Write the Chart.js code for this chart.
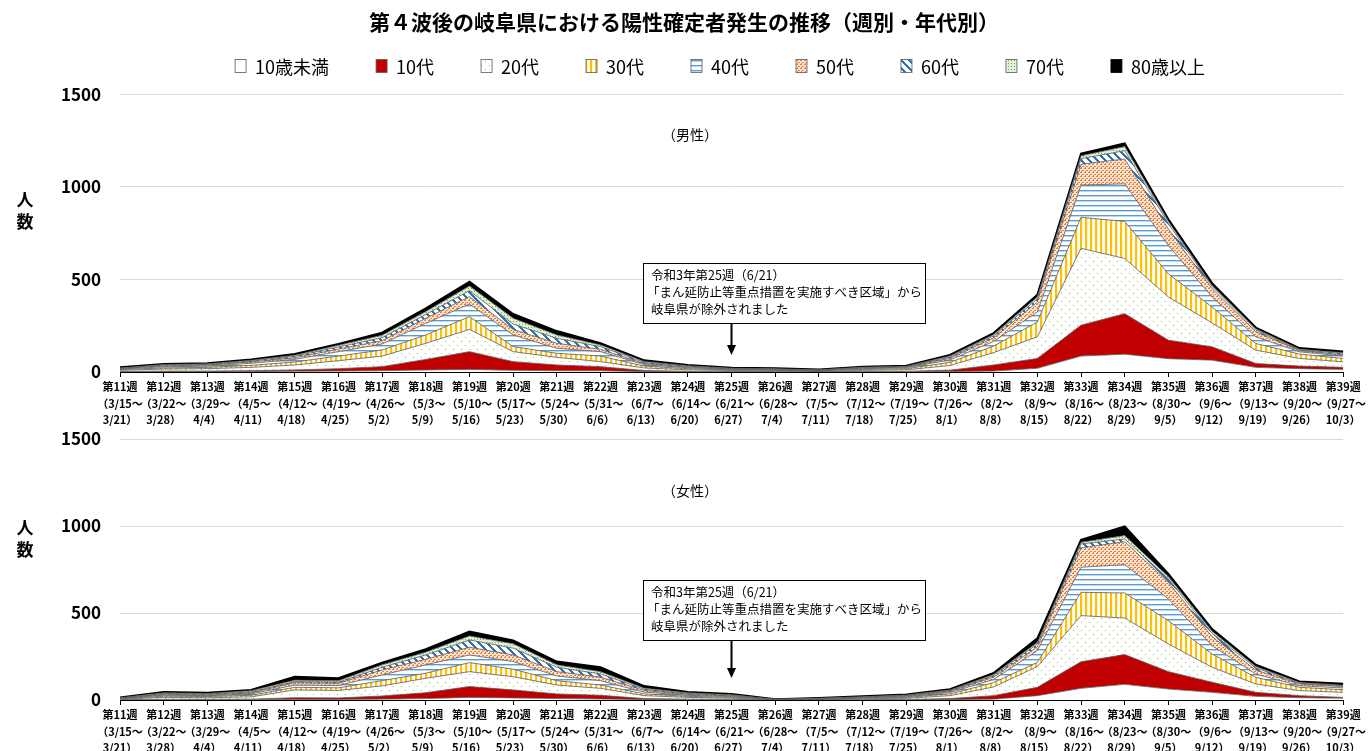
<!DOCTYPE html>
<html>
<head>
<meta charset="utf-8">
<script src="https://cdn.jsdelivr.net/npm/chart.js@4.4.0/dist/chart.umd.min.js"></script>
<style>
  body { margin: 0; background: #fff; width: 1368px; height: 751px; overflow: hidden; position: relative; }
  .wrap { position: absolute; left: 0; width: 1368px; }
</style>
</head>
<body>
<div class="wrap" style="top:0;height:430px"><canvas id="male"></canvas></div>
<div class="wrap" style="top:429px;height:322px"><canvas id="female"></canvas></div>
<script>
// week labels
const weekNames = ['第11週','第12週','第13週','第14週','第15週','第16週','第17週','第18週','第19週','第20週',
  '第21週','第22週','第23週','第24週','第25週','第26週','第27週','第28週','第29週','第30週',
  '第31週','第32週','第33週','第34週','第35週','第36週','第37週','第38週','第39週'];
const weekStarts = ['3/15','3/22','3/29','4/5','4/12','4/19','4/26','5/3','5/10','5/17',
  '5/24','5/31','6/7','6/14','6/21','6/28','7/5','7/12','7/19','7/26',
  '8/2','8/9','8/16','8/23','8/30','9/6','9/13','9/20','9/27'];
const weekEnds = ['3/21','3/28','4/4','4/11','4/18','4/25','5/2','5/9','5/16','5/23',
  '5/30','6/6','6/13','6/20','6/27','7/4','7/11','7/18','7/25','8/1',
  '8/8','8/15','8/22','8/29','9/5','9/12','9/19','9/26','10/3'];

const ageGroups = ['10歳未満','10代','20代','30代','40代','50代','60代','70代','80歳以上'];

// 男性 (weekly counts per age group)
const maleU10 = [1,2,2,2,4,5,7,11,14,9,7,7,2,1,1,1,0,1,1,2,5,20,86,96,72,64,25,18,14];
const male10  = [2,3,3,5,7,13,22,57,96,47,31,22,6,3,2,1,1,2,3,8,33,53,167,219,100,72,21,14,11];
const male20  = [6,11,13,18,27,43,57,87,120,54,41,27,14,8,5,4,3,6,8,25,67,117,415,298,233,129,72,41,30];
const male30  = [4,6,7,11,16,25,33,45,69,27,22,30,10,6,3,3,2,5,6,17,35,80,167,200,125,86,36,24,18];
const male40  = [3,6,7,11,14,24,32,63,68,63,27,24,8,5,3,2,2,4,5,13,25,54,174,203,153,54,36,12,13];
const male50  = [2,5,5,7,9,14,18,27,40,30,27,12,6,4,2,2,1,3,3,9,20,54,113,134,89,45,27,6,7];
const male60  = [2,4,4,5,8,11,16,21,32,29,27,15,6,4,2,2,1,2,3,6,10,17,30,45,28,12,9,4,7];
const male70  = [2,3,3,4,5,9,13,15,25,31,18,9,5,3,2,2,2,3,2,6,7,10,15,22,13,5,7,4,4];
const male80  = [3,3,3,5,7,7,14,18,24,23,21,9,6,4,3,3,2,3,3,6,8,12,12,18,12,13,7,6,7];

// 女性
const femaleU10 = [1,1,1,1,3,3,5,8,15,12,8,6,2,1,1,0,0,1,1,2,5,25,67,90,63,44,21,13,10];
const female10  = [1,3,3,4,10,9,18,34,62,46,27,21,6,4,3,0,1,1,2,6,20,48,153,171,100,58,23,12,5];
const female20  = [3,11,9,13,45,43,58,83,86,76,51,40,17,10,7,1,2,5,7,17,50,119,265,210,159,86,48,29,29];
const female30  = [2,7,7,9,15,15,30,29,52,43,25,19,10,6,5,1,2,3,5,10,25,24,134,144,134,76,38,19,15];
const female40  = [2,6,5,8,13,13,33,48,44,44,27,25,10,6,4,1,2,3,4,8,18,68,144,163,125,48,19,9,10];
const female50  = [1,5,4,6,14,13,29,32,44,38,25,20,10,5,4,0,1,2,4,6,14,22,111,132,95,52,23,10,8];
const female60  = [1,4,4,6,6,6,15,25,42,39,25,19,7,5,3,1,1,2,3,4,8,16,23,15,20,19,12,5,4];
const female70  = [2,4,4,6,8,8,14,16,23,25,14,13,6,4,3,0,1,2,3,4,6,9,9,20,13,12,8,4,4];
const female80  = [2,5,4,5,20,15,13,17,25,19,19,25,12,5,5,1,2,3,3,5,9,23,14,53,15,13,11,6,9];

const labels = weekNames.map((w, i) => [w, '（' + weekStarts[i] + '～', weekEnds[i] + '）']);

const FONT = '"Noto Sans CJK JP", "Noto Sans", sans-serif';

// fill patterns like the office chart
function makePattern(w, h, draw) {
  const c = document.createElement('canvas');
  c.width = w; c.height = h;
  const g = c.getContext('2d');
  g.fillStyle = '#fff';
  g.fillRect(0, 0, w, h);
  draw(g);
  return g.createPattern(c, 'repeat');
}

const fills = [
  '#ffffff',
  '#c00000',
  makePattern(8, 8, g => { g.fillStyle = '#8fbf6a'; g.fillRect(1, 1, 1, 1); g.fillRect(5, 5, 1, 1); }),
  makePattern(5, 1, g => { g.fillStyle = '#ffc000'; g.fillRect(0, 0, 2, 1); g.fillStyle = '#fff2cc'; g.fillRect(2, 0, 1, 1); }),
  makePattern(1, 5, g => { g.fillStyle = '#5b9bd5'; g.fillRect(0, 0, 1, 1); g.fillStyle = '#bdd7ee'; g.fillRect(0, 1, 1, 1); }),
  makePattern(4, 4, g => {
    g.fillStyle = '#fbe5d6'; g.fillRect(0, 0, 4, 4);
    g.fillStyle = '#ed7d31'; g.fillRect(0, 0, 2, 1); g.fillRect(2, 2, 2, 1); g.fillRect(1, 3, 1, 1);
  }),
  makePattern(8, 8, g => {
    g.fillStyle = '#2e75b6';
    for (let i = 0; i < 8; i++) { g.fillRect(i, i, 3, 1); g.fillRect(i - 8, i, 3, 1); }
  }),
  makePattern(3, 3, g => {
    g.fillStyle = '#e2efd9'; g.fillRect(0, 0, 3, 3);
    g.fillStyle = '#70ad47'; g.fillRect(0, 0, 1, 1);
  }),
  '#000000'
];

function buildDatasets(series) {
  return series.map((data, i) => ({
    label: ageGroups[i],
    data: data,
    backgroundColor: fills[i],
    borderColor: i === 8 ? '#000' : '#595959',
    borderWidth: i === 8 ? 2 : 0.8,
    pointRadius: 0,
    tension: 0,
    fill: i === 0 ? 'origin' : '-1'
  }));
}

// subtitle, axis title, note box and custom legend
const overlay = {
  id: 'overlay',
  afterDraw(chart, args, o) {
    const ctx = chart.ctx;
    const xs = chart.scales.x;
    ctx.save();
    ctx.fillStyle = '#000';
    ctx.textAlign = 'center';
    ctx.textBaseline = 'middle';
    ctx.font = '14px ' + FONT;
    ctx.fillText(o.sub, 690, o.subY);
    ctx.font = 'bold 17px ' + FONT;
    ctx.fillText('人', 25, o.yTitle);
    ctx.fillText('数', 25, o.yTitle + 22);

    // note box
    const bx = 643, bw = 282, bh = 60, by = o.boxTop;
    ctx.fillStyle = '#fff';
    ctx.fillRect(bx, by, bw, bh);
    ctx.strokeStyle = '#000';
    ctx.lineWidth = 1;
    ctx.strokeRect(bx + 0.5, by + 0.5, bw, bh);
    ctx.fillStyle = '#000';
    ctx.textAlign = 'left';
    ctx.font = '12.5px ' + FONT;
    ctx.fillText('令和3年第25週（6/21）', bx + 8, by + 12);
    ctx.fillText('「まん延防止等重点措置を実施すべき区域」から', bx + 4, by + 29);
    ctx.fillText('岐阜県が除外されました', bx + 8, by + 46);

    // arrow to week 25
    const ax = Math.round(xs.getPixelForValue(14)) - 0.5;
    ctx.lineWidth = 2;
    ctx.beginPath();
    ctx.moveTo(ax, by + bh);
    ctx.lineTo(ax, o.arrowTip - 8);
    ctx.stroke();
    ctx.beginPath();
    ctx.moveTo(ax - 4.5, o.arrowTip - 10);
    ctx.lineTo(ax + 4.5, o.arrowTip - 10);
    ctx.lineTo(ax, o.arrowTip);
    ctx.closePath();
    ctx.fill();

    if (o.legend) {
      const pad = 47, bw2 = 11, bh2 = 13, gap = 9;
      ctx.font = '18px ' + FONT;
      const widths = chart.data.datasets.map(d => bw2 + gap + ctx.measureText(d.label).width);
      const total = widths.reduce((s, w) => s + w, 0) + pad * (widths.length - 1);
      let lx = 720 - total / 2;
      const ly = 66;
      chart.data.datasets.forEach((d, i) => {
        ctx.fillStyle = d.backgroundColor;
        ctx.fillRect(lx, ly - bh2 / 2, bw2, bh2);
        ctx.strokeStyle = i === 8 ? '#000' : '#595959';
        ctx.lineWidth = 0.8;
        ctx.strokeRect(lx, ly - bh2 / 2, bw2, bh2);
        ctx.fillStyle = '#000';
        ctx.fillText(d.label, lx + bw2 + gap, ly + 1);
        lx += widths[i] + pad;
      });
    }
    ctx.restore();
  }
};

function makeChart(id, series, o) {
  return new Chart(document.getElementById(id), {
    type: 'line',
    data: { labels: labels, datasets: buildDatasets(series) },
    plugins: [overlay],
    options: {
      responsive: true,
      maintainAspectRatio: false,
      animation: false,
      layout: { padding: { top: o.padTop, right: 0, left: 0, bottom: 0 } },
      plugins: {
        legend: { display: false },
        tooltip: { enabled: false },
        title: o.title ? {
          display: true,
          text: o.title,
          color: '#000',
          font: { family: FONT, size: 21, weight: 'bold' },
          padding: { top: 9, bottom: 60 }
        } : { display: false },
        overlay: o
      },
      scales: {
        x: {
          stacked: true,
          offset: false,
          grid: { drawOnChartArea: false, drawTicks: true, tickLength: 5, color: '#000' },
          border: { display: true, color: '#000', width: 1 },
          ticks: {
            autoSkip: false, maxRotation: 0, minRotation: 0, padding: 2, color: '#000',
            font: { family: FONT, size: 11, weight: 'bold', lineHeight: 1.5 }
          },
          afterFit: s => { s.height = o.xHeight; }
        },
        y: {
          stacked: true,
          min: 0, max: 1500,
          grid: { color: '#d9d9d9', drawTicks: false },
          border: { display: false },
          ticks: {
            stepSize: 500, padding: 19, color: '#000',
            font: { family: FONT, size: 17, weight: 'bold' },
            callback: v => String(v)
          },
          afterFit: s => { s.width = 120; s.paddingTop = 10; s.paddingBottom = 10; }
        }
      }
    }
  });
}

makeChart('male', [maleU10, male10, male20, male30, male40, male50, male60, male70, male80], {
  title: '第４波後の岐阜県における陽性確定者発生の推移（週別・年代別）',
  padTop: 0, xHeight: 58, sub: '（男性）', subY: 135, yTitle: 200,
  boxTop: 263, arrowTip: 355, legend: true
});

makeChart('female', [femaleU10, female10, female20, female30, female40, female50, female60, female70, female80], {
  title: null,
  padTop: 0, xHeight: 51, sub: '（女性）', subY: 491 - 429, yTitle: 528 - 429,
  boxTop: 580 - 429, arrowTip: 678 - 429, legend: false
});
</script>
</body>
</html>
